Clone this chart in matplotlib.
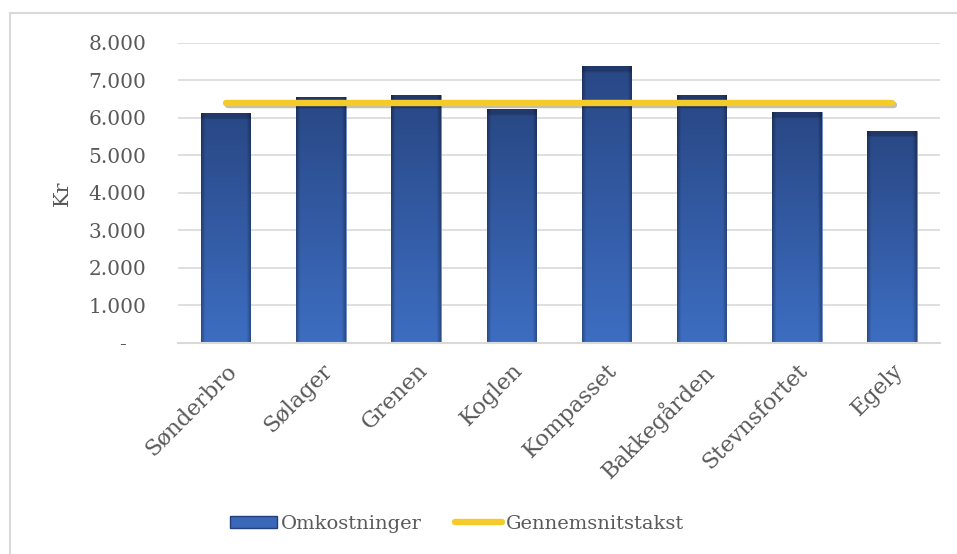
import matplotlib.pyplot as plt
import matplotlib.ticker as mticker
import matplotlib.patheffects as pe
from matplotlib.lines import Line2D
from matplotlib.patches import Rectangle
import numpy as np

plt.rcParams['font.family'] = ['DejaVu Serif']

# data
categories = ['Sønderbro', 'Sølager', 'Grenen', 'Koglen', 'Kompasset',
              'Bakkegården', 'Stevnsfortet', 'Egely']
omkostninger = [6120, 6570, 6600, 6230, 7390, 6600, 6150, 5650]
gennemsnitstakst = [6390] * 8

TEXT = '#595959'
GRID = '#d9d9d9'
YELLOW = '#f5cb2a'


def bevel_image(nx=60, ny=120):
    """Gradient fill that mimics the Excel bevel on the bars"""
    top = np.array([0.16, 0.28, 0.52])
    bottom = np.array([0.24, 0.43, 0.76])
    v = np.linspace(0, 1, ny)[:, None, None]
    img = top + (bottom - top) * v
    img = np.repeat(img, nx, axis=1)
    u = np.linspace(0, 1, nx)
    edge = np.minimum(u, 1 - u)
    shade = np.where(edge < 0.08, 0.70 + 0.3 * edge / 0.08, 1.0)
    img = img * shade[None, :, None]
    img[:3, :, :] *= 0.8
    return np.clip(img, 0, 1)


fig = plt.figure(figsize=(9.57, 5.54), dpi=100)
ax = fig.add_axes([0.186, 0.381, 0.796, 0.5415])

x = np.arange(len(categories))
bars = ax.bar(x, omkostninger, width=0.52, color='#2b4f93', zorder=2,
              edgecolor='#6f8fc9', linewidth=0.6)
img = bevel_image()
for b in bars:
    im = ax.imshow(img, extent=[b.get_x(), b.get_x() + b.get_width(), 0, b.get_height()],
                   origin='upper', aspect='auto', zorder=2.5, interpolation='bilinear')
    im.set_clip_path(b)

ax.plot(x, gennemsnitstakst, color=YELLOW, linewidth=4.6, solid_capstyle='round', zorder=3,
        path_effects=[pe.SimpleLineShadow(offset=(1.5, -1.5), alpha=0.25), pe.Normal()])

ax.set_xlim(-0.5, len(categories) - 0.5)
ax.set_ylim(0, 8000)
ax.yaxis.set_major_locator(mticker.MultipleLocator(1000))
ax.yaxis.set_major_formatter(mticker.FuncFormatter(
    lambda v, p: '-   ' if v == 0 else f'{int(v):,}'.replace(',', '.')))
ax.grid(axis='y', color=GRID, linewidth=1.2, zorder=0)
ax.set_axisbelow(True)
for s in ['top', 'right', 'left']:
    ax.spines[s].set_visible(False)
ax.spines['bottom'].set_color(GRID)
ax.spines['bottom'].set_linewidth(1.5)
ax.tick_params(axis='both', length=0, labelcolor=TEXT)
ax.tick_params(axis='y', pad=23, labelsize=14.5)
ax.tick_params(axis='x', pad=12, labelsize=16)
ax.set_xticks(x)
ax.set_xticklabels(categories, rotation=45, ha='right', rotation_mode='anchor')
for lbl in ax.get_xticklabels():
    lbl.set_x(lbl.get_position()[0])
ax.set_ylabel('Kr', fontsize=15, color=TEXT, labelpad=12)

# legend
handles = [Rectangle((0, 0), 1, 1, facecolor='#3a67b8', edgecolor='#22407a'),
           Line2D([0], [0], color=YELLOW, linewidth=4.6, solid_capstyle='round')]
fig.legend(handles, ['Omkostninger', 'Gennemsnitstakst'], loc='center',
           bbox_to_anchor=(0.4775, 0.055), ncol=2, frameon=False, fontsize=14,
           labelcolor=TEXT, handlelength=2.4, handleheight=0.55,
           handletextpad=0.2, columnspacing=1.75)

# chart border (partly cut off in the original)
fig.add_artist(Line2D([0.0104, 0.0104], [0, 0.9765], color=GRID, linewidth=1.5,
                      transform=fig.transFigure))
fig.add_artist(Line2D([0.0104, 1], [0.9765, 0.9765], color=GRID, linewidth=1.5,
                      transform=fig.transFigure))

plt.savefig('out.png', dpi=100)
plt.close()
